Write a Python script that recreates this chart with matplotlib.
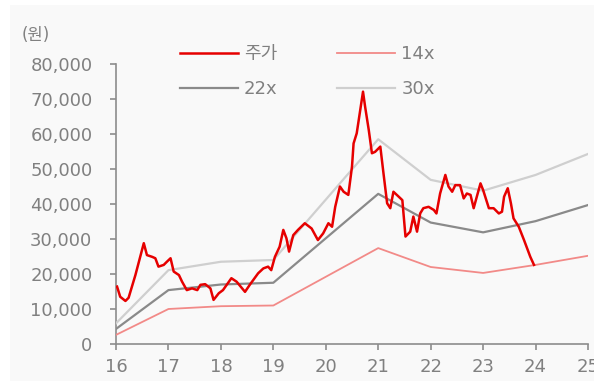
import matplotlib.pyplot as plt
from matplotlib.patches import Rectangle
from matplotlib.ticker import FuncFormatter

plt.rcParams['font.family'] = ['DejaVu Sans', 'Noto Sans CJK KR']

# 주가 (monthly-ish points, x in years '16 = 16.0)
price_t = [16.02, 16.08, 16.18, 16.24, 16.37, 16.53, 16.59, 16.69, 16.75, 16.81,
           16.91, 16.97, 17.04, 17.10, 17.20, 17.26, 17.35, 17.45, 17.55, 17.61,
           17.70, 17.80, 17.86, 17.96, 18.04, 18.20, 18.30, 18.46, 18.55, 18.71,
           18.81, 18.90, 18.96, 19.03, 19.12, 19.19, 19.25, 19.30, 19.38, 19.47,
           19.60, 19.73, 19.85, 19.95, 20.05, 20.12, 20.18, 20.27, 20.34, 20.43,
           20.50, 20.53, 20.59, 20.71, 20.75, 20.82, 20.88, 20.94, 21.04, 21.10,
           21.17, 21.23, 21.29, 21.39, 21.46, 21.52, 21.61, 21.67, 21.74, 21.80,
           21.86, 21.96, 22.06, 22.11, 22.18, 22.28, 22.34, 22.41, 22.47, 22.56,
           22.63, 22.69, 22.76, 22.82, 22.88, 22.95, 23.00, 23.04, 23.11, 23.20,
           23.30, 23.36, 23.40, 23.47, 23.53, 23.58, 23.68, 23.78, 23.90, 23.97]
price = [16400, 13500, 12300, 13200, 19700, 28800, 25400, 24900, 24500, 22100,
         22600, 23500, 24500, 20700, 19700, 17800, 15400, 15900, 15400, 16900,
         17100, 15900, 12600, 14500, 15400, 18800, 17800, 14900, 16900, 20200,
         21600, 22100, 21100, 24900, 27800, 32600, 30200, 26400, 31100, 32600,
         34500, 33000, 29700, 31600, 34500, 33500, 39200, 45000, 43500, 42600,
         50700, 57300, 60200, 72100, 67800, 61100, 54500, 54900, 56400, 48800,
         40200, 38800, 43500, 42100, 41100, 30700, 32100, 36400, 32100, 37300,
         38800, 39200, 38300, 37300, 43000, 48300, 45000, 43500, 45400, 45400,
         41600, 43000, 42600, 38800, 42100, 45900, 44000, 42100, 38800, 38800,
         37300, 37800, 42100, 44500, 40200, 35900, 33500, 29700, 24900, 22600]

# PER band lines (year-end points)
band_t = [16, 17, 18, 19, 21, 22, 23, 24, 25]
per14 = [2600, 10000, 10800, 11000, 27400, 22000, 20300, 22600, 25200]
per22 = [4300, 15400, 17000, 17500, 42900, 34700, 31900, 35100, 39700]
per30 = [5900, 21100, 23500, 24000, 58500, 46900, 43800, 48300, 54300]

years = list(range(16, 26))
yticks = list(range(0, 80001, 10000))

fig = plt.figure(figsize=(6.03, 3.81), dpi=100)
fig.patch.set_facecolor('white')
fig.add_artist(Rectangle((10 / 603, 0), 584 / 603, 376 / 381,
                         transform=fig.transFigure, facecolor='#f9f9f9',
                         edgecolor='none', zorder=-5))

ax = fig.add_axes([116 / 603, 37 / 381, 472 / 603, 280 / 381])
ax.set_facecolor('none')

ax.plot(price_t, price, color='#e60000', lw=1.8, label='주가', zorder=5)
ax.plot(band_t, per22, color='#8a8a8a', lw=1.6, label='22x', zorder=3)
ax.plot(band_t, per14, color='#f28a88', lw=1.3, label='14x', zorder=3)
ax.plot(band_t, per30, color='#cfcfcf', lw=1.6, label='30x', zorder=3)

ax.set_xlim(16, 25)
ax.set_ylim(0, 80000)
ax.set_xticks(years)
ax.set_yticks(yticks)
ax.yaxis.set_major_formatter(FuncFormatter(lambda v, p: f'{int(v):,}'))

txt = '#808080'
for s in ['top', 'right']:
    ax.spines[s].set_visible(False)
for s in ['left', 'bottom']:
    ax.spines[s].set_color('#8c8c8c')
    ax.spines[s].set_linewidth(1.2)
ax.tick_params(axis='y', direction='out', length=4, width=1.2, color='#8c8c8c',
               labelsize=13, labelcolor=txt, pad=13)
ax.tick_params(axis='x', direction='out', length=4, width=1.2, color='#8c8c8c',
               labelsize=13, labelcolor=txt, pad=6)

fig.text(22 / 603, 1 - 35 / 381, '(원)', fontsize=12, color=txt, va='center')

ax.legend(ncol=2, frameon=False, fontsize=13, labelcolor=txt,
          handlelength=3.2, handletextpad=0.35, columnspacing=3.3,
          labelspacing=0.95, borderpad=0, borderaxespad=0,
          loc='upper left', bbox_to_anchor=(180 / 603, 1 - 45 / 381),
          bbox_transform=fig.transFigure)

# white strip on the far right cuts off the last tick label
fig.add_artist(Rectangle((594 / 603, 0), 9 / 603, 1, transform=fig.transFigure,
                         facecolor='white', edgecolor='none', zorder=10))

fig.savefig('out.png', dpi=100)
